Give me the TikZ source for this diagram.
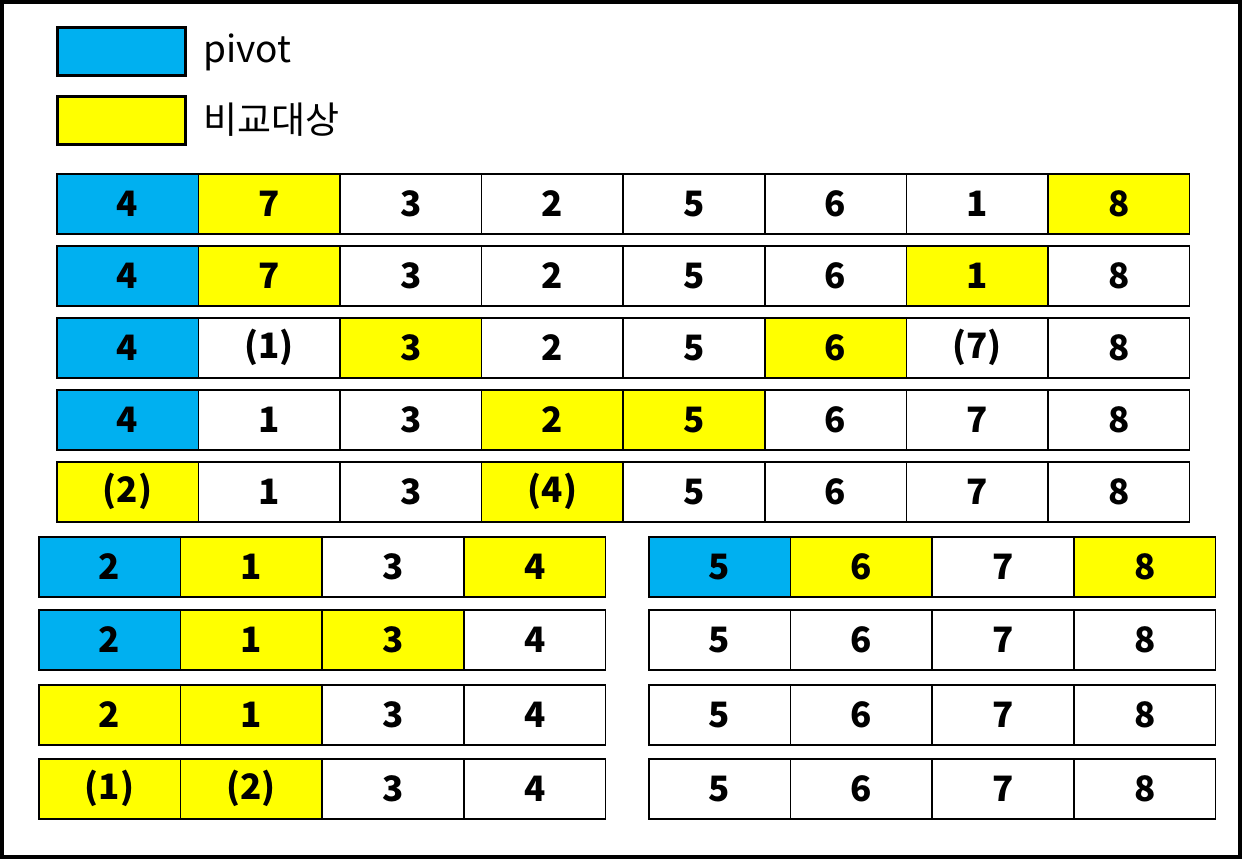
\documentclass[tikz,border=0pt]{standalone}
\usepackage{fontspec}
\setmainfont{Noto Sans CJK KR}
\usetikzlibrary{positioning}
\definecolor{pivotblue}{HTML}{00B0F0}
\definecolor{cmpyellow}{HTML}{FFFF00}
\tikzset{
  cell/.style={draw, line width=1.5pt, minimum width=141.6pt, minimum height=60pt,
    inner sep=0pt, anchor=north west, font=\fontsize{35}{35}\selectfont\bfseries},
  piv/.style={fill=pivotblue},
  cmp/.style={fill=cmpyellow},
  emp/.style={fill=white},
  keybox/.style={draw, line width=3pt, minimum width=128pt, minimum height=48pt, inner sep=0pt},
  keytext/.style={inner sep=0pt, anchor=west, font=\fontsize{37}{37}\selectfont}
}
\begin{document}
\begin{tikzpicture}[x=1pt, y=-1pt]
\useasboundingbox (0,0) rectangle (1242,859);
\draw[line width=4pt] (2,2) rectangle (1240,857);
% legend
\node[keybox, piv] (keypivot) at (121,52) {};
\node[keybox, cmp] (keycmp) at (121,120) {};
\node[keytext, right=17pt of keypivot] (pivottext) {pivot};
\node[keytext, right=17pt of keycmp] (cmptext) {비교대상};
% first pass over all eight
\foreach \r/\y/\cells in {
  1/173/{piv/4,cmp/7,emp/3,emp/2,emp/5,emp/6,emp/1,cmp/8},
  2/245/{piv/4,cmp/7,emp/3,emp/2,emp/5,emp/6,cmp/1,emp/8},
  3/317/{piv/4,emp/(1),cmp/3,emp/2,emp/5,cmp/6,emp/(7),emp/8},
  4/389/{piv/4,emp/1,emp/3,cmp/2,cmp/5,emp/6,emp/7,emp/8},
  5/461/{cmp/(2),emp/1,emp/3,cmp/(4),emp/5,emp/6,emp/7,emp/8}}
  \foreach \s/\v [count=\c] in \cells
    \node[cell, \s] (r\r c\c) at ({56+(\c-1)*141.6},\y) {\v};
% left half
\foreach \r/\y/\cells in {
  1/536/{piv/2,cmp/1,emp/3,cmp/4},
  2/609/{piv/2,cmp/1,cmp/3,emp/4},
  3/684/{cmp/2,cmp/1,emp/3,emp/4},
  4/758/{cmp/(1),cmp/(2),emp/3,emp/4}}
  \foreach \s/\v [count=\c] in \cells
    \node[cell, \s] (lf\r c\c) at ({38+(\c-1)*141.75},\y) {\v};
% right half
\foreach \r/\y/\cells in {
  1/536/{piv/5,cmp/6,emp/7,cmp/8},
  2/609/{emp/5,emp/6,emp/7,emp/8},
  3/684/{emp/5,emp/6,emp/7,emp/8},
  4/758/{emp/5,emp/6,emp/7,emp/8}}
  \foreach \s/\v [count=\c] in \cells
    \node[cell, \s] (rt\r c\c) at ({648+(\c-1)*141.75},\y) {\v};
\end{tikzpicture}
\end{document}
